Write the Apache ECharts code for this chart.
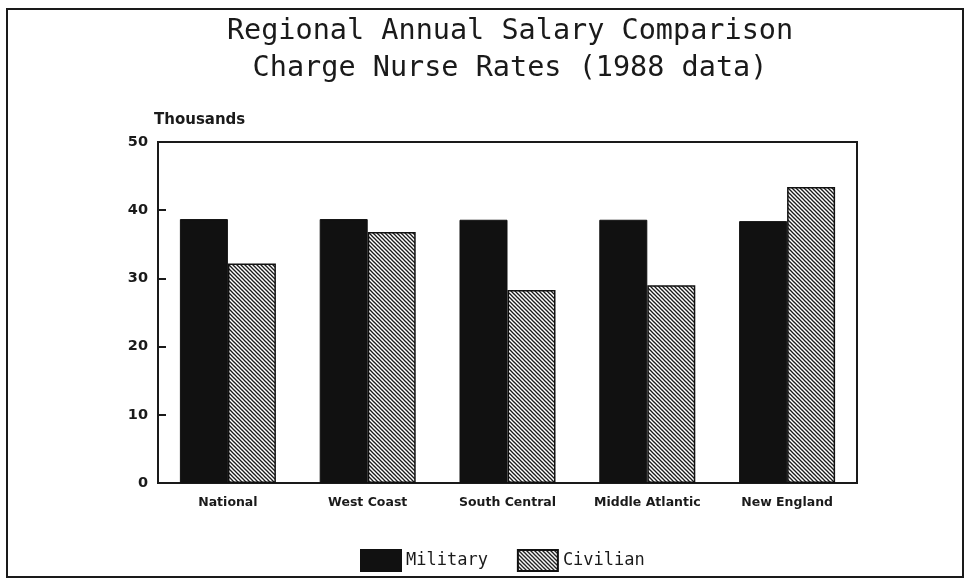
<!DOCTYPE html>
<html>
<head>
<meta charset="utf-8">
<script src="https://cdn.jsdelivr.net/npm/echarts@6/dist/echarts.min.js"></script>
<style>html,body{margin:0;padding:0;background:#fff}#c{width:966px;height:580px}</style>
</head>
<body>
<div id="c"></div>
<script>
const categories = ['National', 'West Coast', 'South Central', 'Middle Atlantic', 'New England'];
const military = [38.7, 38.7, 38.6, 38.6, 38.4];
const civilian = [32.2, 36.8, 28.3, 29.0, 43.4];
const seriesNames = ['Military', 'Civilian'];
const titleLines = ['Regional Annual Salary Comparison', 'Charge Nurse Rates (1988 data)'];
const yUnit = 'Thousands';

function hatch() {
  const c = document.createElement('canvas');
  c.width = 4; c.height = 4;
  const g = c.getContext('2d');
  g.fillStyle = '#ffffff';
  g.fillRect(0, 0, 4, 4);
  g.strokeStyle = '#1a1a1a';
  g.lineWidth = 1.3;
  for (let k = -4; k <= 4; k += 4) {
    g.beginPath();
    g.moveTo(k - 1, -1);
    g.lineTo(k + 5, 5);
    g.stroke();
  }
  return c;
}

const chart = echarts.init(document.getElementById('c'), null, {renderer: 'canvas'});
chart.setOption({
  animation: false,
  backgroundColor: '#fff',
  title: {
    text: titleLines.join('\n'),
    left: 505, textAlign: 'center', top: 8,
    textStyle: {fontFamily: 'DejaVu Sans Mono', fontWeight: 'normal', fontSize: 28.5, lineHeight: 37, color: '#1a1a1a'}
  },
  graphic: [{
    type: 'rect', shape: {x: 7, y: 9, width: 956, height: 568},
    style: {fill: 'none', stroke: '#1a1a1a', lineWidth: 2}, silent: true, z: -1
  }],
  legend: {
    data: seriesNames, left: 355, top: 544, icon: 'rect',
    itemWidth: 40, itemHeight: 21, itemGap: 29,
    textStyle: {fontFamily: 'DejaVu Sans Mono', fontSize: 17, color: '#1a1a1a'}
  },
  grid: {
    left: 158, right: 109, top: 142, bottom: 97,
    show: true, borderColor: '#1a1a1a', borderWidth: 2, backgroundColor: '#fff'
  },
  xAxis: {
    type: 'category', data: categories,
    axisLine: {lineStyle: {color: '#1a1a1a', width: 2}},
    axisTick: {show: false},
    axisLabel: {fontFamily: 'DejaVu Sans', fontWeight: 'bold', fontSize: 12.5, color: '#1a1a1a', margin: 13}
  },
  yAxis: {
    type: 'value', min: 0, max: 50, interval: 10,
    name: yUnit, nameLocation: 'end', nameGap: 14,
    nameTextStyle: {align: 'left', fontFamily: 'DejaVu Sans', fontWeight: 'bold', fontSize: 15, color: '#1a1a1a', padding: [0, 0, 0, -4]},
    splitLine: {show: false},
    axisLine: {show: true, lineStyle: {color: '#1a1a1a', width: 2}},
    axisTick: {show: true, inside: true, length: 8, lineStyle: {color: '#1a1a1a', width: 2}},
    axisLabel: {fontFamily: 'DejaVu Sans', fontWeight: 'bold', fontSize: 14.5, color: '#1a1a1a', margin: 10}
  },
  series: [
    {
      name: seriesNames[0], type: 'bar', data: military,
      barWidth: 48, barGap: '0%',
      itemStyle: {color: '#111111', borderColor: '#111111', borderWidth: 1}
    },
    {
      name: seriesNames[1], type: 'bar', data: civilian,
      barWidth: 48,
      itemStyle: {color: {image: hatch(), repeat: 'repeat'}, borderColor: '#111111', borderWidth: 1.5}
    }
  ]
});
</script>
</body>
</html>
